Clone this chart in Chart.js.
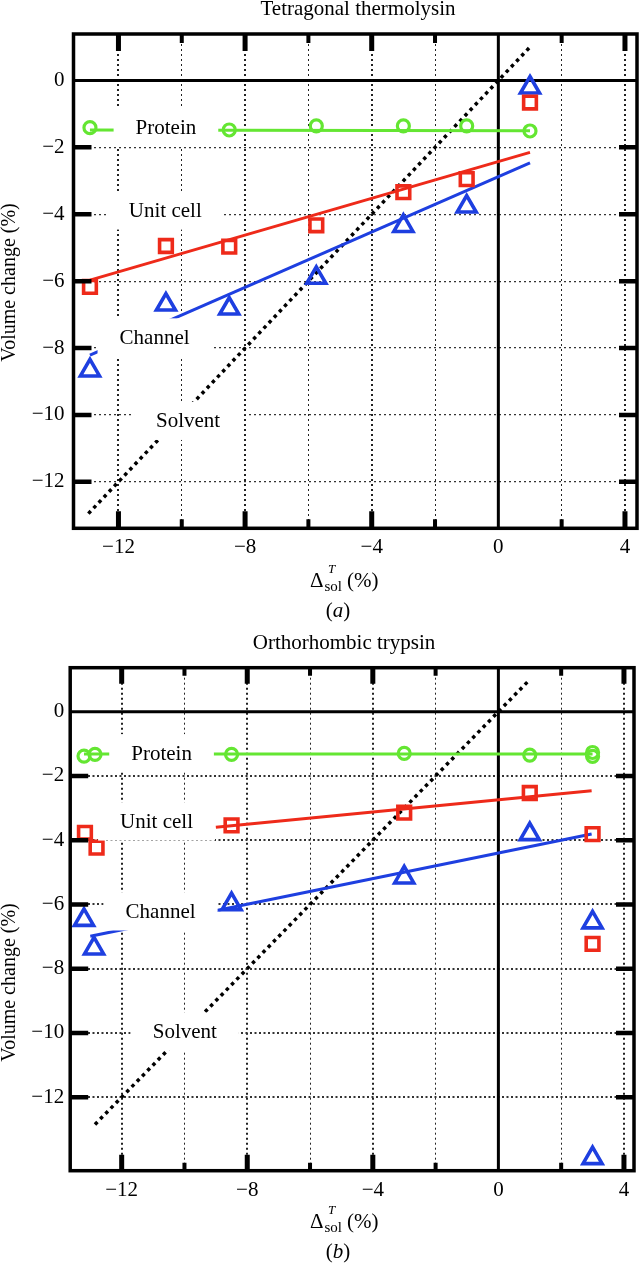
<!DOCTYPE html>
<html>
<head>
<meta charset="utf-8">
<script src="https://cdn.jsdelivr.net/npm/chart.js@4.4.0/dist/chart.umd.min.js"></script>
<style>
html,body{margin:0;padding:0;background:#fff;}
#wrap{position:relative;width:640px;height:1263px;overflow:hidden;}
canvas{display:block;position:absolute;left:0;}
#chartA{top:0;}
#chartB{top:632px;}
</style>
</head>
<body>
<div id="wrap">
<canvas id="chartA" width="640" height="632"></canvas>
<canvas id="chartB" width="640" height="631"></canvas>
</div>
<script>
// ---------- tick values / labels ----------
const xTickValues = [-12, -10, -8, -6, -4, -2, 0, 2, 4];
const xMajorTicks = [-12, -8, -4, 0, 4];
const yTickValues = [-12, -10, -8, -6, -4, -2, 0];

// ---------- (a) Tetragonal thermolysin ----------
const aProteinX = [-12.9, -8.5, -5.75, -3.0, -1.0, 1.0];
const aProteinY = [-1.41, -1.48, -1.36, -1.36, -1.36, -1.51];
const aUnitX    = [-12.9, -10.5, -8.5, -5.75, -3.0, -1.0, 1.0];
const aUnitY    = [-6.17, -4.95, -4.97, -4.33, -3.34, -2.95, -0.66];
const aChanX    = [-12.9, -10.5, -8.5, -5.75, -3.0, -1.0, 1.0];
const aChanY    = [-8.67, -6.70, -6.82, -5.90, -4.35, -3.77, -0.21];
const aProteinFitX = [-12.9, 1.0],  aProteinFitY = [-1.48, -1.50];
const aUnitFitX    = [-12.9, 1.0],  aUnitFitY    = [-5.97, -2.15];
const aChanFitX    = [-12.9, 1.0],  aChanFitY    = [-8.21, -2.46];
const aSolventX    = [-12.95, 0.98], aSolventY   = [-12.95, 0.98];

// ---------- (b) Orthorhombic trypsin ----------
const bProteinX = [-13.2, -12.85, -8.5, -3.0, 1.0, 3.0, 3.0];
const bProteinY = [-1.38, -1.33, -1.33, -1.30, -1.35, -1.27, -1.39];
const bUnitX    = [-13.17, -12.8, -8.5, -3.0, 1.0, 3.0, 3.0];
const bUnitY    = [-3.77, -4.23, -3.54, -3.14, -2.53, -3.81, -7.23];
const bChanX    = [-13.2, -12.88, -8.5, -3.0, 1.0, 3.0, 3.0];
const bChanY    = [-6.48, -7.37, -5.99, -5.16, -3.81, -6.56, -13.90];
const bProteinFitX = [-13.2, 3.0],  bProteinFitY = [-1.32, -1.32];
const bUnitFitX    = [-9.0, 2.97],  bUnitFitY    = [-3.60, -2.46];
const bChanFitX    = [-13.0, 2.97], bChanFitY    = [-6.99, -3.81];
const bSolventX    = [-12.85, 0.98], bSolventY   = [-12.85, 0.98];

const seriesNames = ['Protein', 'Unit cell', 'Channel', 'Solvent'];

// ---------- styles ----------
const GREEN = '#64e632', RED = '#ee2a1a', BLUE = '#1e3fe0';
const FONT = '"Liberation Serif", "Times New Roman", serif';

const pts = (xs, ys) => xs.map((x, i) => ({x: x, y: ys[i]}));
const fmt = v => (v < 0 ? '\u2212' + Math.abs(v) : String(v));

function markers(label, xs, ys, color, style, r, bw) {
  return {label, data: pts(xs, ys), showLine: false, pointStyle: style,
    pointRadius: r, pointHoverRadius: r, pointBorderWidth: bw,
    pointBorderColor: color, pointBackgroundColor: 'rgba(0,0,0,0)', order: 1};
}
function fit(label, xs, ys, color) {
  return {label, data: pts(xs, ys), showLine: true, borderColor: color,
    borderWidth: 3, pointRadius: 0, order: 5};
}
function solvent(xs, ys) {
  return {label: 'Solvent', data: pts(xs, ys), showLine: true, borderColor: '#000',
    borderWidth: 3.5, borderDash: [3.5, 4], borderCapStyle: 'butt', pointRadius: 0, order: 10};
}

function makeDecor(cfg) {
  return {
    id: 'decor',
    beforeDatasetsDraw(chart) {
      const {ctx, chartArea: a, scales: {x, y}} = chart;
      ctx.save();
      ctx.strokeStyle = '#000';
      ctx.lineWidth = 3;
      const x0 = x.getPixelForValue(0), y0 = y.getPixelForValue(0);
      ctx.beginPath();
      ctx.moveTo(x0, a.top); ctx.lineTo(x0, a.bottom);
      ctx.moveTo(a.left, y0); ctx.lineTo(a.right, y0);
      ctx.stroke();
      ctx.restore();
    },
    afterDatasetsDraw(chart) {
      const {ctx, chartArea: a, scales: {x, y}} = chart;
      ctx.save();
      // boxed labels
      ctx.font = '21px ' + FONT;
      ctx.textAlign = 'center';
      ctx.textBaseline = 'middle';
      cfg.labels.forEach(l => {
        const px = x.getPixelForValue(l.x), py = y.getPixelForValue(l.y);
        const w = ctx.measureText(l.text).width;
        ctx.fillStyle = '#fff';
        ctx.fillRect(px - w / 2 - 22, py - 19, w + 44, 38);
        ctx.fillStyle = '#000';
        ctx.fillText(l.text, px, py + 1);
      });
      // frame
      ctx.strokeStyle = '#000';
      ctx.lineWidth = 3.5;
      ctx.strokeRect(a.left, a.top, a.right - a.left, a.bottom - a.top);
      // inward tick marks
      ctx.lineCap = 'butt';
      xTickValues.forEach(v => {
        if (v === 0) return;
        const major = xMajorTicks.includes(v);
        const len = major ? cfg.xMajorLen : cfg.xMinorLen;
        ctx.lineWidth = major ? 5 : 4;
        const px = x.getPixelForValue(v);
        ctx.beginPath();
        ctx.moveTo(px, a.bottom); ctx.lineTo(px, a.bottom - len);
        ctx.moveTo(px, a.top); ctx.lineTo(px, a.top + len);
        ctx.stroke();
      });
      ctx.lineWidth = 4.5;
      yTickValues.forEach(v => {
        if (v === 0) return;
        const py = y.getPixelForValue(v);
        ctx.beginPath();
        ctx.moveTo(a.left, py); ctx.lineTo(a.left + 18, py);
        ctx.moveTo(a.right, py); ctx.lineTo(a.right - 18, py);
        ctx.stroke();
      });
      ctx.restore();
    },
    afterDraw(chart) {
      const ctx = chart.ctx;
      ctx.save();
      ctx.fillStyle = '#000';
      // chart title
      ctx.font = '21px ' + FONT;
      ctx.textAlign = 'center';
      ctx.textBaseline = 'alphabetic';
      ctx.fillText(cfg.title, cfg.titleX, cfg.titleY);
      // x axis title: Δ^T_sol (%)
      const L = 310, B = cfg.xTitleY;
      ctx.textAlign = 'left';
      ctx.font = '21px ' + FONT;
      ctx.fillText('\u0394', L, B);
      ctx.font = 'italic 13px ' + FONT;
      ctx.fillText('T', L + 18, B - 14);
      ctx.font = '15px ' + FONT;
      ctx.fillText('sol', L + 14.5, B + 4);
      ctx.font = '21px ' + FONT;
      ctx.fillText('(%)', L + 37, B);
      // panel letter (a)/(b)
      ctx.font = '21px ' + FONT;
      const wp = ctx.measureText('(').width, wq = ctx.measureText(')').width;
      ctx.font = 'italic 21px ' + FONT;
      const wl = ctx.measureText(cfg.panel).width;
      let px = 338 - (wp + wl + wq) / 2;
      ctx.font = '21px ' + FONT;
      ctx.fillText('(', px, cfg.panelY); px += wp;
      ctx.font = 'italic 21px ' + FONT;
      ctx.fillText(cfg.panel, px, cfg.panelY); px += wl;
      ctx.font = '21px ' + FONT;
      ctx.fillText(')', px, cfg.panelY);
      // y axis title
      ctx.translate(cfg.yTitleX, cfg.yTitleY);
      ctx.rotate(-Math.PI / 2);
      ctx.textAlign = 'center';
      ctx.textBaseline = 'middle';
      ctx.font = '20px ' + FONT;
      ctx.fillText('Volume change (%)', 0, 0);
      ctx.restore();
    }
  };
}

function makeChart(id, o) {
  const datasets = [
    solvent(o.solX, o.solY),
    fit(seriesNames[0], o.pfX, o.pfY, GREEN),
    fit(seriesNames[1], o.ufX, o.ufY, RED),
    fit(seriesNames[2], o.cfX, o.cfY, BLUE),
    markers(seriesNames[0], o.pX, o.pY, GREEN, 'circle', 6, 3.2),
    markers(seriesNames[1], o.uX, o.uY, RED, 'rect', 9, 3.6),
    markers(seriesNames[2], o.cX, o.cY, BLUE, 'triangle', 11, 3.6)
  ];
  return new Chart(document.getElementById(id), {
    type: 'scatter',
    data: {datasets},
    options: {
      responsive: false,
      animation: false,
      devicePixelRatio: 1,
      events: [],
      layout: {autoPadding: false, padding: o.padding},
      plugins: {legend: {display: false}, tooltip: {enabled: false}, title: {display: false}},
      scales: {
        x: {
          type: 'linear', min: o.xMin, max: o.xMax,
          afterBuildTicks: s => { s.ticks = xTickValues.map(v => ({value: v})); },
          afterFit: s => { s.height = 40; s.paddingLeft = 0; s.paddingRight = 0; },
          ticks: {autoSkip: false, maxRotation: 0, padding: 7, color: '#000',
            font: {family: FONT, size: 21},
            callback: v => (xMajorTicks.includes(v) ? fmt(v) : '')},
          grid: {drawTicks: false,
            color: c => (c.tick && c.tick.value === 0 ? 'rgba(0,0,0,0)' : '#222'),
            lineWidth: c => (c.tick && xMajorTicks.includes(c.tick.value) ? 2 : 1)},
          border: {display: false, dash: [2, 3]}
        },
        y: {
          type: 'linear', min: o.yMin, max: o.yMax,
          afterBuildTicks: s => { s.ticks = yTickValues.map(v => ({value: v})); },
          afterFit: s => { s.width = o.yWidth; s.paddingTop = 0; s.paddingBottom = 0; },
          ticks: {autoSkip: false, padding: o.yPad, color: '#000',
            font: {family: FONT, size: 21}, callback: v => fmt(v)},
          grid: {drawTicks: false,
            color: c => (c.tick && c.tick.value === 0 ? 'rgba(0,0,0,0)' : '#333'),
            lineWidth: o.yGridW},
          border: {display: false, dash: o.yDash}
        }
      }
    },
    plugins: [makeDecor(o.decor)]
  });
}

makeChart('chartA', {
  pX: aProteinX, pY: aProteinY, uX: aUnitX, uY: aUnitY, cX: aChanX, cY: aChanY,
  pfX: aProteinFitX, pfY: aProteinFitY, ufX: aUnitFitX, ufY: aUnitFitY,
  cfX: aChanFitX, cfY: aChanFitY, solX: aSolventX, solY: aSolventY,
  xMin: -13.42, xMax: 4.38, yMin: -13.39, yMax: 1.39,
  padding: {top: 34, right: 3, bottom: 63.7, left: 0},
  yWidth: 73.5, yPad: 9, yGridW: 1.2, yDash: [2, 3],
  decor: {
    title: 'Tetragonal thermolysin', titleX: 358, titleY: 14.5,
    xTitleY: 587, panel: 'a', panelY: 617, yTitleX: 10, yTitleY: 282.5,
    xMajorLen: 17, xMinorLen: 9,
    labels: [
      {text: seriesNames[0], x: -10.50, y: -1.41},
      {text: seriesNames[1], x: -10.52, y: -3.89},
      {text: seriesNames[2], x: -10.86, y: -7.68},
      {text: seriesNames[3], x: -9.80, y: -10.18}
    ]
  }
});

makeChart('chartB', {
  pX: bProteinX, pY: bProteinY, uX: bUnitX, uY: bUnitY, cX: bChanX, cY: bChanY,
  pfX: bProteinFitX, pfY: bProteinFitY, ufX: bUnitFitX, ufY: bUnitFitY,
  cfX: bChanFitX, cfY: bChanFitY, solX: bSolventX, solY: bSolventY,
  xMin: -13.64, xMax: 4.32, yMin: -14.29, yMax: 1.37,
  padding: {top: 35.7, right: 6, bottom: 52.3, left: 0},
  yWidth: 70.2, yPad: 6, yGridW: 2, yDash: [2, 2.5],
  decor: {
    title: 'Orthorhombic trypsin', titleX: 344, titleY: 17.3,
    xTitleY: 596, panel: 'b', panelY: 625.5, yTitleX: 10, yTitleY: 350.5,
    xMajorLen: 16, xMinorLen: 8,
    labels: [
      {text: seriesNames[0], x: -10.73, y: -1.29},
      {text: seriesNames[1], x: -10.89, y: -3.42},
      {text: seriesNames[2], x: -10.76, y: -6.22},
      {text: seriesNames[3], x: -9.99, y: -9.96}
    ]
  }
});
</script>
</body>
</html>
